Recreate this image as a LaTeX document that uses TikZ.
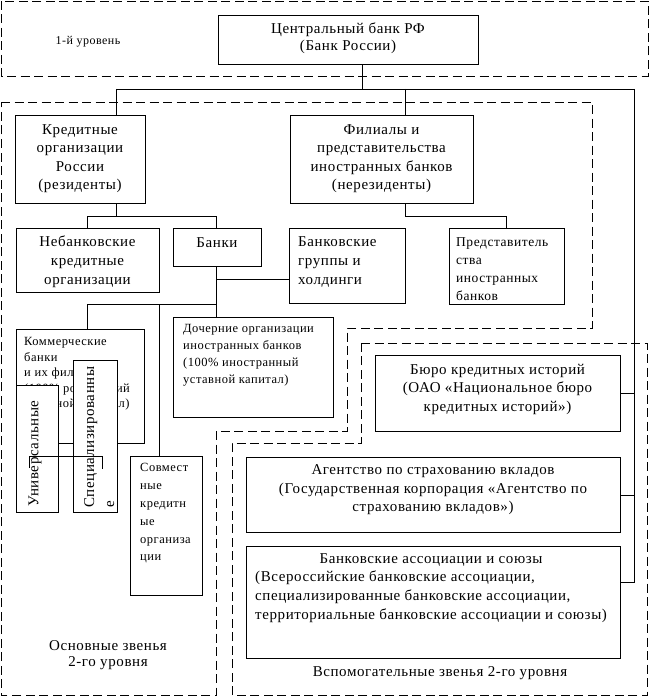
\documentclass[tikz,border=0pt]{standalone}
\usepackage{fontspec}
\setmainfont{Liberation Serif}[LetterSpace=4]
\begin{document}
\begin{tikzpicture}[x=1pt,y=-1pt,
  ln/.style={line width=0.8pt},
  box/.style={draw, line width=0.8pt, fill=white, inner sep=0pt, anchor=north west},
  region/.style={draw, line width=0.8pt, dash pattern=on 9pt off 4.5pt},
  tx/.style={inner sep=0pt, align=center},
  txl/.style={inner sep=0pt, align=left, anchor=west},
  fbig/.style={font=\fontsize{15}{18.5}\selectfont},
  fmid/.style={font=\fontsize{13.5}{18}\selectfont},
  fsmall/.style={font=\fontsize{12.5}{17}\selectfont}]
\useasboundingbox (0,0) rectangle (650,698);
% dashed regions
\draw[region] (1,1) rectangle (648,76);
\draw[region] (1,102) -- (592,102) -- (592,328) -- (347,328) -- (347,431) -- (216,431) -- (216,695) -- (1,695) -- cycle;
\draw[region] (361,343) -- (647,343) -- (647,695) -- (232,695) -- (232,443) -- (361,443) -- cycle;
% boxes
\node[box, minimum width=260pt, minimum height=49pt] (cb) at (218,15) {};
\node[box, minimum width=130pt, minimum height=88pt] (kred) at (15,115) {};
\node[box, minimum width=183pt, minimum height=88pt] (fil) at (290,115) {};
\node[box, minimum width=143pt, minimum height=64pt] (neb) at (16,228) {};
\node[box, minimum width=88pt, minimum height=38pt] (banki) at (173,228) {};
\node[box, minimum width=116pt, minimum height=75pt] (grp) at (289,228) {};
\node[box, minimum width=115pt, minimum height=76pt] (pred) at (449,228) {};
\node[box, minimum width=128pt, minimum height=114pt] (kom) at (16,329) {};
\node[box, minimum width=160pt, minimum height=100pt] (doch) at (173,317) {};
\node[box, minimum width=72pt, minimum height=139pt] (sovm) at (130,456) {};
\node[box, minimum width=245pt, minimum height=76pt] (byuro) at (375,355) {};
\node[box, minimum width=374pt, minimum height=75pt] (agent) at (246,457) {};
\node[box, minimum width=374pt, minimum height=112pt] (assoc) at (246,546) {};
% connectors
\coordinate (j0) at (362,89);
\coordinate (jL) at (116,89);
\coordinate (jM) at (405,89);
\coordinate (jR) at (634,89);
\coordinate (jRb) at (634,582);
\draw[ln] (cb.south -| j0) -- (j0);
\draw[ln] (jL) -- (jR);
\draw[ln] (jL) -- (jL |- kred.north);
\draw[ln] (jM) -- (jM |- fil.north);
\draw[ln] (jR) -- (jRb) -- (assoc.east |- jRb);
\draw[ln] (byuro.east) -- (byuro.east -| jR);
\draw[ln] (agent.east) -- (agent.east -| jR);
\coordinate (k1) at (116,216);
\coordinate (k2) at (87,216);
\coordinate (k3) at (216,216);
\draw[ln] (kred.south -| k1) -- (k1);
\draw[ln] (k2) -- (k3);
\draw[ln] (k2) -- (k2 |- neb.north);
\draw[ln] (k3) -- (k3 |- banki.north);
\coordinate (f1) at (405,216);
\coordinate (f2) at (506,216);
\draw[ln] (fil.south -| f1) -- (f1) -- (f2) -- (f2 |- pred.north);
\coordinate (b1) at (216,279);
\coordinate (b2) at (216,304);
\coordinate (b3) at (87,304);
\coordinate (b4) at (159,304);
\draw[ln] (banki.south -| b1) -- (doch.north -| b1);
\draw[ln] (b1) -- (b1 -| grp.west);
\draw[ln] (b2) -- (b3) -- (b3 |- kom.north);
\draw[ln] (b4) -- (b4 |- sovm.north);
% texts
\node[tx, font=\fontsize{12}{14}\selectfont] (lvl1) at (88,42) {1-й уровень};
\node[tx, fbig, font=\fontsize{15}{17}\selectfont] (cbt) at (348,38.5) {Центральный банк РФ\\(Банк России)};
\node[tx, fbig] (kredt) at (80,158.5) {Кредитные\\организации\\России\\(резиденты)};
\node[tx, fbig] (filt) at (381.5,158.5) {Филиалы и\\представительства\\иностранных банков\\(нерезиденты)};
\node[tx, fbig, font=\fontsize{15}{19}\selectfont] (nebt) at (87.5,262) {Небанковские\\кредитные\\организации};
\node[tx, fbig] (bankit) at (217,243) {Банки};
\node[txl, fbig, font=\fontsize{15}{19}\selectfont] (grpt) at (298,262) {Банковские\\группы и\\холдинги};
\node[txl, fmid] (predt) at (456,269) {Представитель\\ства\\иностранных\\банков};
\node[txl, font=\fontsize{12.5}{15.5}\selectfont] (komt) at (24,374) {Коммерческие\\банки\\и их филиалы\\(100\% российский\\уставной капитал)};
\node[txl, fsmall] (docht) at (183,355.5) {Дочерние организации\\иностранных банков\\(100\% иностранный\\уставной капитал)};
\node[txl, font=\fontsize{12.5}{17.8}\selectfont] (sovmt) at (140,513.5) {Совмест\\ные\\кредитн\\ые\\организа\\ции};
\node[tx, fbig] (byurot) at (497.5,389) {Бюро кредитных историй\\(ОАО «Национальное бюро\\кредитных историй»)};
\node[tx, fbig] (agentt) at (433,490) {Агентство по страхованию вкладов\\(Государственная корпорация «Агентство по\\страхованию вкладов»)};
\node[tx, fbig] (assoct1) at (431,560) {Банковские ассоциации и союзы};
\node[txl, fbig, font=\fontsize{15}{19}\selectfont] (assoct2) at (255,597) {(Всероссийские банковские ассоциации,\\специализированные банковские ассоциации,\\территориальные банковские ассоциации и союзы)};
\node[tx, fbig] (vsp) at (440,673) {Вспомогательные звенья 2-го уровня};
\node[tx, font=\fontsize{15}{16.5}\selectfont] (osn) at (108,655) {Основные звенья\\2-го уровня};
% overlapping boxes
\node[box, minimum width=42pt, minimum height=127pt] (univ) at (16,385) {};
\node[box, minimum width=44pt, minimum height=152pt] (spec) at (73,360) {};
\node[inner sep=0pt, rotate=90, anchor=west, fbig] (univt) at (35,507) {Универсальные};
\node[inner sep=0pt, rotate=90, anchor=north west, align=left, font=\fontsize{15}{20}\selectfont] (spect) at (84,508) {Специализированны\\е};
\coordinate (br1) at (29,468);
\coordinate (br2) at (29,456);
\coordinate (br3) at (102,456);
\coordinate (br4) at (102,469);
\draw[ln] (br1) -- (br2) -- (br3) -- (br4);
\end{tikzpicture}
\end{document}
